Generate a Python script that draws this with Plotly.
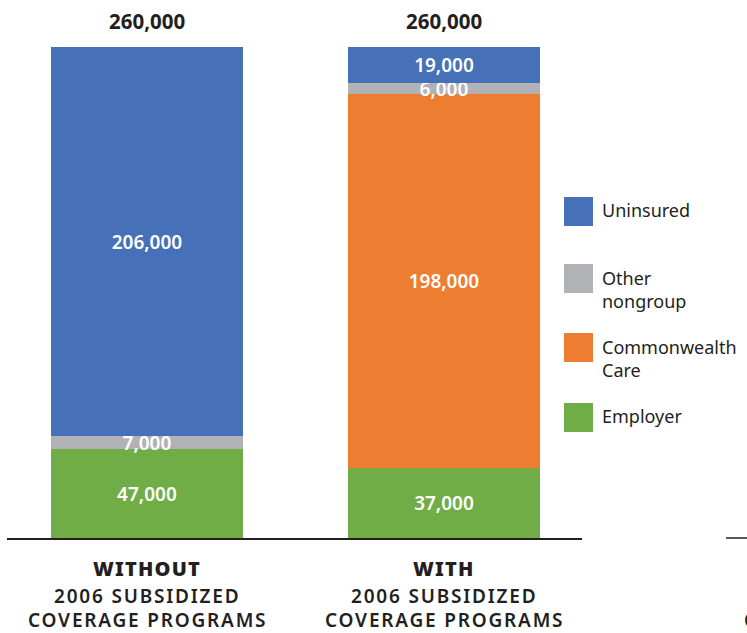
import plotly.graph_objects as go

# ---- data ----
categories = ["WITHOUT", "WITH"]
cat_sub = ["2006 SUBSIDIZED", "2006 SUBSIDIZED"]
cat_sub2 = ["COVERAGE PROGRAMS", "COVERAGE PROGRAMS"]
employer = [47000, 37000]
commonwealth = [0, 198000]
other_nongroup = [7000, 6000]
uninsured = [206000, 19000]
totals = [260000, 260000]

series = [
    ("Employer", employer, "#70AD47"),
    ("Commonwealth Care", commonwealth, "#ED7D31"),
    ("Other nongroup", other_nongroup, "#B1B2B5"),
    ("Uninsured", uninsured, "#4671B8"),
]
legend_order = [
    ("Uninsured", "#4671B8"),
    ("Other<br>nongroup", "#B1B2B5"),
    ("Commonwealth<br>Care", "#ED7D31"),
    ("Employer", "#70AD47"),
]

FONT = "Noto Sans"
DARK = "#231F20"
W, H = 747, 633
ML, MR, MT, MB = 7, 165, 47, 95
PW = W - ML - MR
PH = H - MT - MB


def px_x(px):
    return (px - ML) / PW


def px_y(py):
    return (H - MB - py) / PH


def spaced(t, ls):
    return f'<span style="letter-spacing:{ls}px">{t}</span>'


xpos = [0, 1]
fig = go.Figure()
for name, vals, color in series:
    fig.add_trace(go.Bar(
        x=xpos, y=vals, name=name, marker=dict(color=color, line=dict(width=0)),
        width=0.6465,
        text=[f"{v:,}" if v > 0 else "" for v in vals],
        textposition="inside", insidetextanchor="middle", textangle=0,
        constraintext="none",
        textfont=dict(family=FONT, size=19, color="white", weight=600),
        showlegend=False, hoverinfo="skip",
    ))

annotations = []
for xi, t in zip(xpos, totals):
    annotations.append(dict(x=xi, y=t, xref="x", yref="y", text=f"{t:,}",
                            showarrow=False, yanchor="middle", yshift=26,
                            font=dict(family=FONT, size=20.5, color=DARK, weight=700)))

for xi, c, s1, s2 in zip(xpos, categories, cat_sub, cat_sub2):
    annotations.append(dict(x=xi, y=px_y(568), xref="x", yref="paper", text=spaced(c, 1.2),
                            showarrow=False, yanchor="middle",
                            font=dict(family=FONT, size=20, color=DARK, weight=900)))
    annotations.append(dict(x=xi, y=px_y(596), xref="x", yref="paper", text=spaced(s1, 1.8),
                            showarrow=False, yanchor="middle",
                            font=dict(family=FONT, size=19, color=DARK, weight=600)))
    annotations.append(dict(x=xi, y=px_y(620), xref="x", yref="paper", text=spaced(s2, 1.8),
                            showarrow=False, yanchor="middle",
                            font=dict(family=FONT, size=19, color=DARK, weight=600)))

# cropped third panel label at the right edge
annotations.append(dict(x=px_x(742), y=px_y(620), xref="paper", yref="paper",
                        text=spaced("COVERAGE PROGRAMS", 1.8), showarrow=False, xanchor="left",
                        yanchor="middle",
                        font=dict(family=FONT, size=19, color=DARK, weight=600)))

shapes = [dict(type="line", xref="paper", yref="paper", x0=px_x(726), x1=px_x(760),
               y0=0, y1=0, line=dict(color=DARK, width=1.5))]

# custom legend
sq_tops = [197, 264, 333, 403]
for (label, color), top in zip(legend_order, sq_tops):
    shapes.append(dict(type="rect", xref="paper", yref="paper",
                       x0=px_x(564), x1=px_x(593), y0=px_y(top + 29), y1=px_y(top),
                       fillcolor=color, line=dict(width=0)))
    nlines = label.count("<br>") + 1
    cy = top + 13 + (nlines - 1) * 12.5
    annotations.append(dict(x=px_x(600), y=px_y(cy), xref="paper", yref="paper",
                            text=label, showarrow=False, xanchor="left",
                            yanchor="middle", align="left",
                            font=dict(family=FONT, size=18, color=DARK)))

fig.update_layout(
    barmode="stack",
    width=W, height=H,
    margin=dict(l=ML, r=MR, t=MT, b=MB, autoexpand=False),
    paper_bgcolor="white", plot_bgcolor="white",
    xaxis=dict(range=[-0.4714, 1.4646], showgrid=False, zeroline=False,
               showticklabels=False, ticks="", showline=True, linecolor=DARK,
               linewidth=1.5, fixedrange=True),
    yaxis=dict(range=[0, 260000], visible=False, fixedrange=True),
    annotations=annotations,
    shapes=shapes,
    font=dict(family=FONT),
    showlegend=False,
)

fig.write_html("out.html", config={"displayModeBar": False})
